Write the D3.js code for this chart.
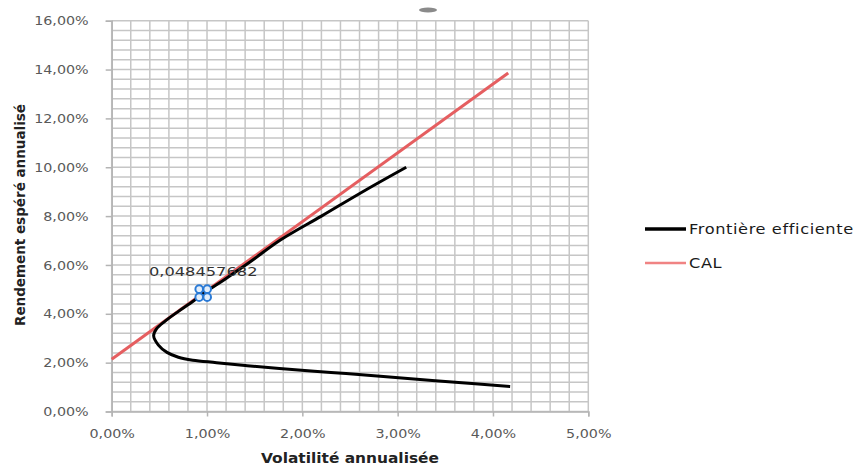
<!DOCTYPE html>
<html>
<head>
<meta charset="utf-8">
<script src="https://cdn.jsdelivr.net/npm/d3@7"></script>
<style>
  body { margin: 0; background: #fff; }
  svg { display: block; }
</style>
</head>
<body>
<svg id="chart" width="856" height="466"></svg>
<script>
// efficient frontier (in %)
const frontierVol = [4.18, 3.5, 2.85, 2.3, 1.76, 1.4, 1.1, 0.85, 0.7, 0.58, 0.49, 0.44, 0.47, 0.56, 0.7, 0.85, 0.96, 1.2, 1.45, 1.77, 2.2, 2.67, 3.09]
const frontierRet = [1.02, 1.23, 1.43, 1.6, 1.76, 1.88, 2.0, 2.1, 2.22, 2.42, 2.72, 3.1, 3.38, 3.7, 4.1, 4.5, 4.83, 5.45, 6.12, 7.02, 8.0, 9.08, 10.0]

// capital allocation line, end points
const calVol = [0, 4.16]
const calRet = [2.14, 13.86]

// tangency portfolio
const tangentVol = 0.96
const tangentRet = 4.8457682
const tangentLabel = '0,048457682'

const xTicks = [0, 1, 2, 3, 4, 5]
const yTicks = [0, 2, 4, 6, 8, 10, 12, 14, 16]
const legendNames = ['Frontière efficiente', 'CAL']

const svg = d3.select('#chart')
const font = 'DejaVu Sans, sans-serif'

const x = d3.scaleLinear().domain([0, 5]).range([111.7, 588.3])
const y = d3.scaleLinear().domain([0, 16]).range([411.5, 20.7])

const fmt = d => d.toFixed(2).replace('.', ',') + '%'

// stretch text a bit horizontally, the picture is wider than normal
function stretch(sel, f) {
    sel.each(function () {
        const len = this.getComputedTextLength()
        d3.select(this)
            .attr('textLength', len * f)
            .attr('lengthAdjust', 'spacingAndGlyphs')
    })
}

// grid
const grid = svg.append('g').attr('stroke', '#c6c6c6').attr('stroke-width', 1.5)
grid.selectAll('.v')
    .data(d3.range(0, 5.001, 0.2))
    .enter()
    .append('line')
    .attr('x1', d => x(d))
    .attr('x2', d => x(d))
    .attr('y1', y(0))
    .attr('y2', y(16))
grid.selectAll('.h')
    .data(d3.range(0, 16.001, 0.4))
    .enter()
    .append('line')
    .attr('x1', x(0))
    .attr('x2', x(5))
    .attr('y1', d => y(d))
    .attr('y2', d => y(d))

// axes
const yAxis = svg.append('g')
    .attr('transform', `translate(${x(0)},0)`)
    .call(d3.axisLeft(y).tickValues(yTicks).tickSize(6).tickPadding(17).tickFormat(fmt))
const xAxis = svg.append('g')
    .attr('transform', `translate(0,${y(0)})`)
    .call(d3.axisBottom(x).tickValues(xTicks).tickSize(5).tickPadding(12).tickFormat(fmt))
;[xAxis, yAxis].forEach(a => {
    a.select('.domain').attr('stroke', '#b4b4b4').attr('stroke-width', 1.5)
    a.selectAll('.tick line').attr('stroke', '#b4b4b4').attr('stroke-width', 1.5)
    a.selectAll('.tick text')
        .attr('fill', '#595959')
        .style('font-family', font)
        .style('font-size', '13px')
        .call(stretch, 1.1)
})

// CAL
const line = d3.line().x(d => x(d[0])).y(d => y(d[1]))
svg.append('path')
    .datum(calVol.map((v, i) => [v, calRet[i]]))
    .attr('d', line)
    .attr('fill', 'none')
    .attr('stroke', '#e55e60')
    .attr('stroke-width', 3)

// frontier
svg.append('path')
    .datum(frontierVol.map((v, i) => [v, frontierRet[i]]))
    .attr('d', line.curve(d3.curveCatmullRom))
    .attr('fill', 'none')
    .attr('stroke', '#000')
    .attr('stroke-width', 3)
    .attr('stroke-linejoin', 'round')

// tangency marker: four little blue rings
const tx = x(tangentVol), ty = y(tangentRet)
svg.selectAll('.mk')
    .data([[-4, -4], [4, -4], [-4, 4], [4, 4]])
    .enter()
    .append('circle')
    .attr('cx', d => tx + d[0])
    .attr('cy', d => ty + d[1])
    .attr('r', 3.8)
    .attr('fill', '#e3eefa')
    .attr('stroke', '#2a7ad6')
    .attr('stroke-width', 2)
svg.append('text')
    .attr('x', tx)
    .attr('y', ty - 17)
    .attr('text-anchor', 'middle')
    .attr('fill', '#333')
    .style('font-family', font)
    .style('font-size', '13px')
    .text(tangentLabel)
    .call(stretch, 1.25)

// axis titles
svg.append('text')
    .attr('x', 350)
    .attr('y', 463)
    .attr('text-anchor', 'middle')
    .attr('fill', '#222')
    .style('font-family', font)
    .style('font-size', '14px')
    .style('font-weight', 'bold')
    .text('Volatilité annualisée')
    .call(stretch, 1.1)
svg.append('text')
    .attr('transform', 'translate(25,215) rotate(-90)')
    .attr('text-anchor', 'middle')
    .attr('fill', '#222')
    .style('font-family', font)
    .style('font-size', '13.5px')
    .style('font-weight', 'bold')
    .text('Rendement espéré annualisé')

// legend
const legend = svg.append('g')
legend.selectAll('line')
    .data(legendNames)
    .enter()
    .append('line')
    .attr('x1', 645)
    .attr('x2', 686)
    .attr('y1', (d, i) => 229 + i * 34)
    .attr('y2', (d, i) => 229 + i * 34)
    .attr('stroke', (d, i) => (i === 0 ? '#000' : '#f08383'))
    .attr('stroke-width', (d, i) => (i === 0 ? 3.5 : 2.5))
legend.selectAll('text')
    .data(legendNames)
    .enter()
    .append('text')
    .attr('x', 689)
    .attr('y', (d, i) => 229 + i * 34)
    .attr('dy', '0.36em')
    .attr('fill', '#1a1a1a')
    .style('font-family', font)
    .style('font-size', '13.5px')
    .style('letter-spacing', '0.5px')
    .text(d => d)
    .call(stretch, 1.2)

// small grey blob left over at the top of the picture
svg.append('ellipse')
    .attr('cx', 428)
    .attr('cy', 10)
    .attr('rx', 9)
    .attr('ry', 2.5)
    .attr('fill', '#8a8a8a')
</script>
</body>
</html>
